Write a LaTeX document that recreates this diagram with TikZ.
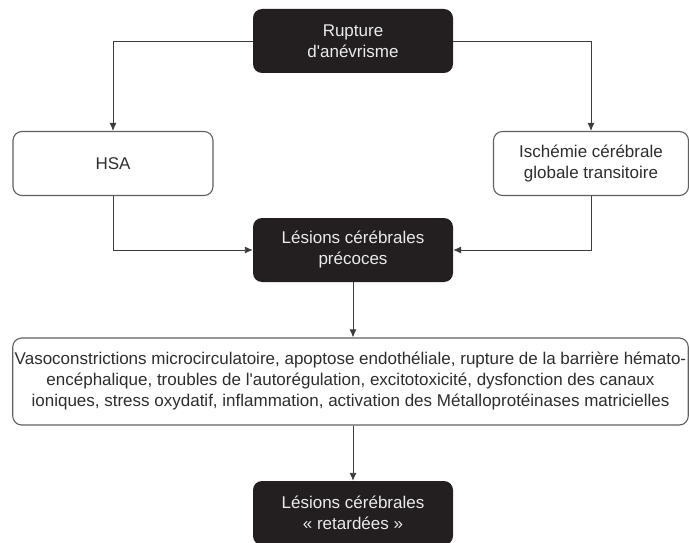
\documentclass[tikz,border=0pt]{standalone}
\usepackage{fontspec}
\setmainfont{Liberation Sans}
\usepackage{tikz}
\usetikzlibrary{positioning}
\usetikzlibrary{arrows.meta}
\usetikzlibrary{calc}
\definecolor{boxblack}{RGB}{35,31,32}
\definecolor{linegray}{RGB}{60,60,60}
\definecolor{framegray}{RGB}{95,95,95}
\definecolor{textgray}{RGB}{45,45,45}

\begin{document}
\begin{tikzpicture}[x=1pt,y=-1pt,
    font=\fontsize{17}{21}\selectfont]
	\useasboundingbox (0,0) rectangle (689,543);
	\begin{scope}[every node/.style={rounded corners=9pt, align=center, minimum height=64pt, inner xsep=2pt}]
	    \node (rupt) [fill=boxblack, text=white!92!black, minimum width=200pt] at (353,41) {Rupture\\d\textquotesingle anévrisme};
	    \node (hsa) [draw=framegray, text=textgray, line width=1.1pt, minimum width=200pt] at (113,163.5) {HSA};
	    \node (isch) [draw=framegray, text=textgray, line width=1.1pt, minimum width=195pt] at (591,163.5) {Ischémie cérébrale\\globale transitoire};
	    \node (prec) [fill=boxblack, text=white!92!black, minimum width=200pt] at (353,250) {Lésions cérébrales\\précoces};
	    \node (mech) [draw=framegray, text=textgray, line width=1.1pt, minimum width=675pt, minimum height=87pt] at (350.5,381.5) {Vasoconstrictions microcirculatoire, apoptose endothéliale, rupture de la barrière hémato-\\encéphalique, troubles de l\textquotesingle autorégulation, excitotoxicité, dysfonction des canaux\\ioniques, stress oxydatif, inflammation, activation des Métalloprotéinases matricielles};
	    \node (tard) [fill=boxblack, text=white!92!black, minimum width=200pt] at (353,513) {Lésions cérébrales\\«~retardées~»};
	\end{scope}

	\begin{scope}[>={Latex[length=8pt,width=7pt]}, every path/.style={draw=linegray, line width=0.9pt}]
    	\path [->] (rupt.west) -| (hsa.north);
    	\path [->] (rupt.east) -| (isch.north);
    	\path [->] (hsa.south) |- (prec.west);
    	\path [->] (isch.south) |- (prec.east);
    	\path [->] (prec.south) -- (prec.south |- mech.north);
    	\path [->] (tard.north |- mech.south) -- (tard.north);
	\end{scope}
\end{tikzpicture}
\end{document}
